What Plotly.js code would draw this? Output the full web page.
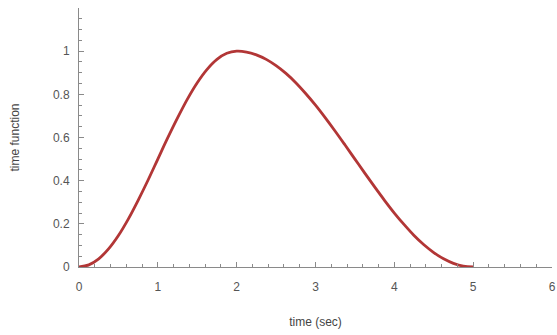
<!DOCTYPE html>
<html>
<head>
<meta charset="utf-8">
<script src="https://cdn.plot.ly/plotly-3.0.1.min.js"></script>
<style>
  html, body { margin: 0; padding: 0; background: #fff; }
  #chart { width: 557px; height: 335px; }
</style>
</head>
<body>
<div id="chart"></div>
<script>
// Time samples (seconds) and the pulse-shaped time function
const timeSec = [0, 0.125, 0.25, 0.375, 0.5, 0.625, 0.75, 0.875, 1, 1.125, 1.25, 1.375,
                 1.5, 1.625, 1.75, 1.875, 2, 2.125, 2.25, 2.375, 2.5, 2.625, 2.75, 2.875,
                 3, 3.125, 3.25, 3.375, 3.5, 3.625, 3.75, 3.875, 4, 4.125, 4.25, 4.375,
                 4.5, 4.625, 4.75, 4.875, 5];
const timeFunction = [0, 0.010, 0.038, 0.084, 0.146, 0.222, 0.309, 0.402, 0.500, 0.598,
                      0.691, 0.778, 0.854, 0.916, 0.962, 0.990, 1.000, 0.996, 0.983, 0.962,
                      0.933, 0.897, 0.854, 0.804, 0.750, 0.691, 0.629, 0.565, 0.500, 0.435,
                      0.371, 0.309, 0.250, 0.196, 0.146, 0.103, 0.067, 0.038, 0.017, 0.004, 0];

const xTicks = [0, 1, 2, 3, 4, 5, 6];
const yTicks = [0, 0.2, 0.4, 0.6, 0.8, 1];
const yTickText = ['0', '0.2', '0.4', '0.6', '0.8', '1'];

const axisColor = '#8a8a8a';
const fontFamily = 'Liberation Sans, Arial, sans-serif';
const labelFont = { family: fontFamily, size: 12, color: '#555' };
const titleFont = { family: fontFamily, size: 12, color: '#444' };

const trace = {
  x: timeSec,
  y: timeFunction,
  type: 'scatter',
  mode: 'lines',
  line: { color: '#b23636', width: 2.8, shape: 'spline', smoothing: 1 },
  hoverinfo: 'skip'
};

const layout = {
  width: 557,
  height: 335,
  margin: { l: 79, r: 5, t: 8, b: 68 },
  paper_bgcolor: '#fff',
  plot_bgcolor: '#fff',
  showlegend: false,
  xaxis: {
    range: [0, 6],
    tickvals: xTicks,
    ticktext: xTicks.map(String),
    showgrid: false,
    zeroline: false,
    showline: true,
    linecolor: axisColor,
    linewidth: 1,
    ticks: 'inside',
    ticklen: 5,
    tickcolor: axisColor,
    tickfont: labelFont,
    ticklabelstandoff: 9,
    ticklabeloverflow: 'allow',
    minor: { dtick: 0.2, ticks: 'inside', ticklen: 3, tickcolor: axisColor, showgrid: false },
    title: { text: 'time (sec)', font: titleFont, standoff: 24 },
    automargin: false,
    fixedrange: true
  },
  yaxis: {
    range: [0, 1.2],
    tickvals: yTicks,
    ticktext: yTickText,
    showgrid: false,
    zeroline: false,
    showline: true,
    linecolor: axisColor,
    linewidth: 1,
    ticks: 'inside',
    ticklen: 5,
    tickcolor: axisColor,
    tickfont: labelFont,
    ticklabelstandoff: 6,
    minor: { dtick: 0.05, ticks: 'inside', ticklen: 3, tickcolor: axisColor, showgrid: false },
    title: { text: 'time function', font: titleFont, standoff: 30 },
    automargin: false,
    fixedrange: true
  }
};

Plotly.newPlot('chart', [trace], layout, { displayModeBar: false, staticPlot: true });
</script>
</body>
</html>
